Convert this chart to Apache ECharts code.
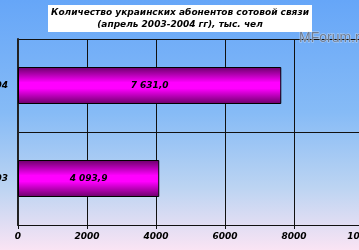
<!DOCTYPE html>
<html>
<head>
<meta charset="utf-8">
<script src="https://cdn.jsdelivr.net/npm/echarts@6/dist/echarts.min.js"></script>
<style>
html,body{margin:0;padding:0;}
#c{width:359px;height:250px;background:linear-gradient(to bottom,#66a6f8 0%,#86bbf6 45%,#bcd4f2 75%,#fae4f4 100%);}
</style>
</head>
<body>
<div id="c"></div>
<script>
const categories = ['2003', '2004'];
const values = [4093.9, 7631.0];
const xTicks = [0, 2000, 4000, 6000, 8000, 10000];
const titleLines = ['Количество украинских абонентов сотовой связи', '(апрель 2003-2004 гг), тыс. чел'];
const watermark = 'MForum.ru';

function fmt(v) {
  const s = v.toFixed(1).split('.');
  const int = s[0].replace(/\B(?=(\d{3})+(?!\d))/g, ' ');
  return int + ',' + s[1];
}

const chart = echarts.init(document.getElementById('c'));
const font = {fontFamily: 'DejaVu Sans', fontWeight: 'bold', fontStyle: 'italic', fontSize: 9, color: '#000'};
chart.setOption({
  backgroundColor: 'transparent',
  animation: false,
  graphic: [
    {type: 'rect', shape: {x: 48, y: 5, width: 264, height: 27}, style: {fill: '#fff'}, z: 10},
    {type: 'text', x: 180, y: 7, z: 11,
      style: {text: titleLines.join('\n'), align: 'center', verticalAlign: 'top', lineHeight: 12,
        fontFamily: 'DejaVu Sans', fontWeight: 'bold', fontStyle: 'italic', fontSize: 9, fill: '#000'}},
    {type: 'text', x: 299, y: 31, z: 10,
      style: {text: watermark, fontFamily: 'Liberation Sans', fontSize: 14, fill: '#6f7c90',
        stroke: 'rgba(230,235,245,0.6)', lineWidth: 1}}
  ],
  grid: {left: 18, top: 39, width: 345, bottom: 25, containLabel: false, outerBoundsMode: 'none'},
  xAxis: {
    type: 'value', min: 0, max: 10000, interval: 2000,
    axisLine: {show: true, lineStyle: {color: '#111', width: 1}},
    axisTick: {show: true, length: 4, lineStyle: {color: '#111'}},
    splitLine: {show: true, lineStyle: {color: '#111', width: 1}},
    axisLabel: Object.assign({}, font, {margin: 7, formatter: v => String(v)}),
  },
  yAxis: {
    type: 'category', data: categories,
    axisLine: {show: true, lineStyle: {color: '#222', width: 2}},
    axisTick: {show: false},
    splitLine: {show: true, lineStyle: {color: '#111', width: 1}},
    axisLabel: Object.assign({}, font, {margin: 10}),
  },
  series: [{
    type: 'bar', data: values, barWidth: 37,
    itemStyle: {
      borderColor: '#000', borderWidth: 1,
      color: {type: 'linear', x: 0, y: 0, x2: 0, y2: 1, colorStops: [
        {offset: 0, color: '#6a0068'},
        {offset: 0.42, color: '#ff00ff'},
        {offset: 0.58, color: '#ff00ff'},
        {offset: 1, color: '#6a0068'}
      ]}
    },
    label: Object.assign({show: true, position: 'inside', formatter: p => fmt(p.value)}, font),
  }]
});
</script>
</body>
</html>
